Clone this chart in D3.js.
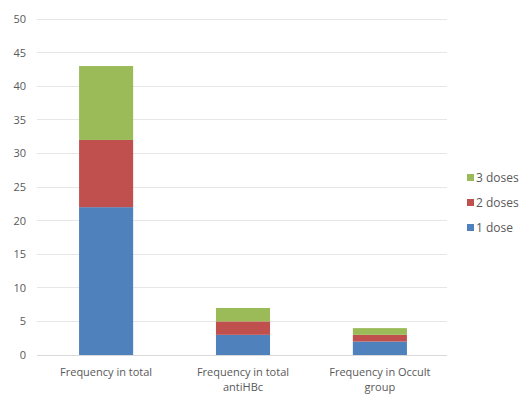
<!DOCTYPE html>
<html><head><meta charset="utf-8">
<script src="https://cdn.jsdelivr.net/npm/d3@7"></script>
<style>body{margin:0;background:#fff;} text{font-family:"Open Sans",Calibri,sans-serif;fill:#595959;}</style>
</head><body>
<svg id="c" width="519" height="395"></svg>
<script>
const categories = [["Frequency in total"], ["Frequency in total","antiHBc"], ["Frequency in Occult","group"]];
const seriesNames = ["1 dose","2 doses","3 doses"];
const dose1 = [22, 3, 2];
const dose2 = [10, 2, 1];
const dose3 = [11, 2, 1];
const colors = ["#4F81BD","#C0504D","#9BBB59"];
const yTicks = [0,5,10,15,20,25,30,35,40,45,50];

const svg = d3.select("#c");
const x = d3.scaleBand().domain(d3.range(categories.length)).range([37,447]).paddingInner(0.605).paddingOuter(0.3);
const y = d3.scaleLinear().domain([0,50]).range([355,19]);

// gridlines
svg.append("g").selectAll("line").data(yTicks).join("line")
  .attr("x1",37).attr("x2",447).attr("y1",d=>y(d)).attr("y2",d=>y(d))
  .attr("stroke",d=>d===0?"#d9d9d9":"#e6e6e6").attr("stroke-width",1).attr("shape-rendering","crispEdges");

const yAxis = d3.axisLeft(y).tickValues(yTicks).tickSize(0).tickPadding(0);
const ga = svg.append("g").attr("transform","translate(26,0)").call(yAxis);
ga.select(".domain").remove();
ga.selectAll("text").style("font-size","11px").attr("fill","#595959");

const data = categories.map((c,i)=>({i, d1:dose1[i], d2:dose2[i], d3:dose3[i]}));
const stack = d3.stack().keys(["d1","d2","d3"])(data);
svg.append("g").selectAll("g").data(stack).join("g").attr("fill",(d,k)=>colors[k])
  .selectAll("rect").data(d=>d).join("rect")
  .attr("x",d=>x(d.data.i)+1).attr("width",x.bandwidth())
  .attr("y",d=>y(d[1])).attr("height",d=>y(d[0])-y(d[1]));

// category labels
const xl = svg.append("g");
categories.forEach((lines,i)=>{
  const cx = x(i)+x.bandwidth()/2+1;
  const t = xl.append("text").attr("text-anchor","middle").style("font-size","11px")
    .attr("x", cx).attr("y",376);
  lines.forEach((l,j)=>t.append("tspan").attr("x",cx).attr("dy",j===0?0:15).text(l));
});

// legend
const legendY = [228,203,178];
const lg = svg.append("g");
seriesNames.forEach((n,k)=>{
  lg.append("rect").attr("x",467).attr("y",legendY[k]-4).attr("width",7).attr("height",7).attr("fill",colors[k]);
  lg.append("text").attr("x",476).attr("y",legendY[k]+4).style("font-size","12px").text(n);
});
</script>
</body></html>
